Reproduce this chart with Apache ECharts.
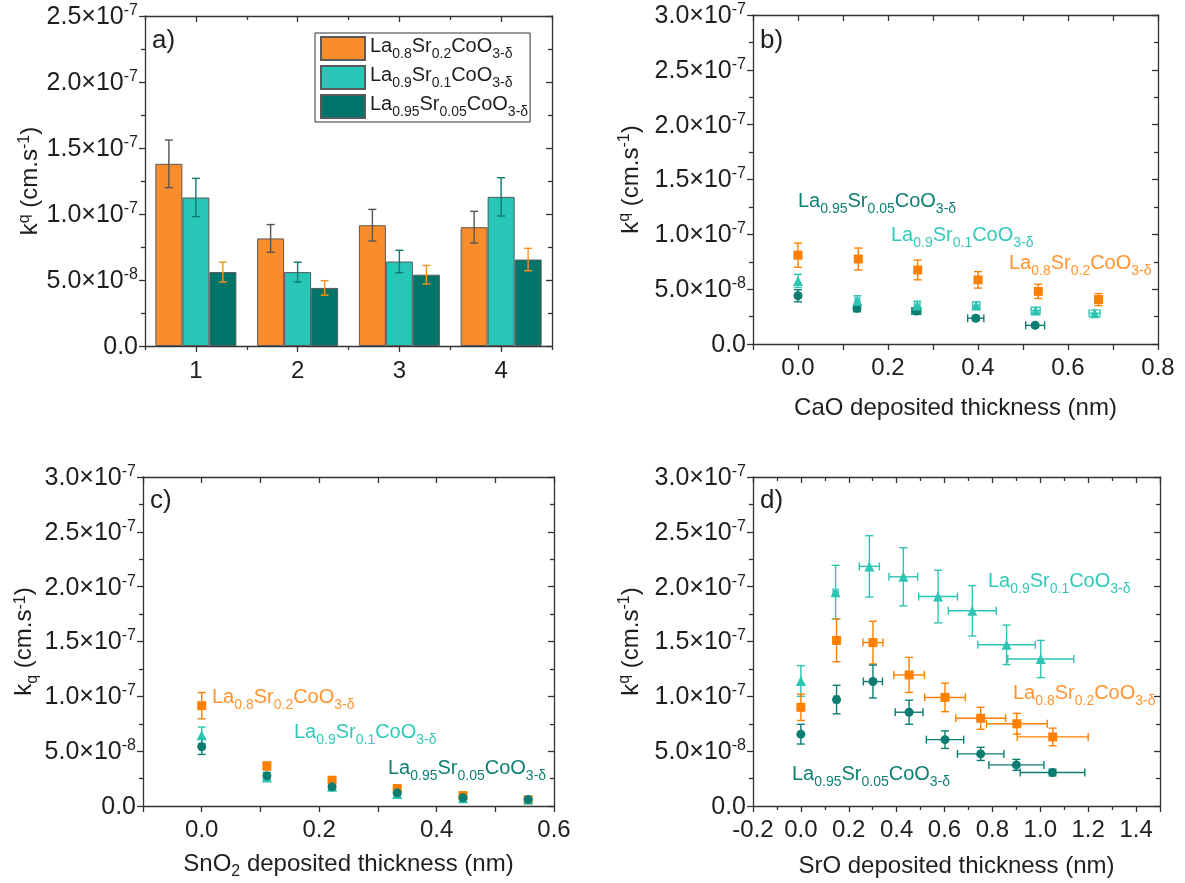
<!DOCTYPE html>
<html><head><meta charset="utf-8">
<script src="https://cdn.jsdelivr.net/npm/echarts@6/dist/echarts.min.js"></script>
<style>html,body{margin:0;padding:0;background:#fff}#c{width:1185px;height:883px}</style>
</head><body><div id="c"></div>
<script>
// ---------------- DATA (k values in units of 1e-8 cm/s) ----------------
const barCategories = ['1', '2', '3', '4'];
const barLSC82 = [13.8, 8.15, 9.15, 9.0];
const barLSC82Err = [1.8, 1.05, 1.2, 1.2];
const barLSC91 = [11.25, 5.6, 6.4, 11.3];
const barLSC91Err = [1.45, 0.75, 0.85, 1.45];
const barLSC955 = [5.6, 4.4, 5.4, 6.55];
const barLSC955Err = [0.75, 0.55, 0.7, 0.85];

// panel b: CaO
const caoX82 = [0, 0.134, 0.266, 0.4, 0.534, 0.668];
const caoY82 = [8.1, 7.75, 6.75, 5.85, 4.8, 4.05];
const caoYE82 = [1.1, 1.0, 0.9, 0.75, 0.65, 0.55];
const caoXE82 = [0, 0, 0, 0, 0, 0];
const caoX91 = [0, 0.132, 0.265, 0.396, 0.528, 0.659];
const caoY91 = [5.75, 3.95, 3.5, 3.5, 3.05, 2.8];
const caoYE91 = [0.6, 0.45, 0.4, 0.35, 0.3, 0.3];
const caoXE91 = [0, 0.005, 0.006, 0.008, 0.01, 0.012];
const caoX955 = [0, 0.131, 0.263, 0.395, 0.527];
const caoY955 = [4.4, 3.25, 3.0, 2.35, 1.7];
const caoYE955 = [0.55, 0.3, 0.3, 0.2, 0.15];
const caoXE955 = [0, 0.006, 0.01, 0.018, 0.021];

// panel c: SnO2
const snoX = [0, 0.111, 0.222, 0.333, 0.445, 0.556];
const snoY82 = [9.15, 3.65, 2.35, 1.6, 0.95, 0.55];
const snoYE82 = [1.2, 0.35, 0.25, 0.18, 0.12, 0.08];
const snoY91 = [6.45, 2.6, 1.75, 1.1, 0.7, 0.6];
const snoYE91 = [0.75, 0.3, 0.2, 0.15, 0.1, 0.08];
const snoY955 = [5.4, 2.75, 1.75, 1.2, 0.75, 0.6];
const snoYE955 = [0.7, 0.3, 0.2, 0.15, 0.1, 0.08];

// panel d: SrO
const sroX91 = [0, 0.145, 0.286, 0.428, 0.573, 0.716, 0.859, 1.002];
const sroXE91 = [0, 0.01, 0.042, 0.06, 0.081, 0.1, 0.12, 0.138];
const sroY91 = [11.4, 19.5, 21.85, 20.9, 19.1, 17.8, 14.7, 13.4];
const sroYE91 = [1.4, 2.45, 2.8, 2.65, 2.4, 2.3, 1.8, 1.7];
const sroX82 = [0, 0.149, 0.301, 0.452, 0.602, 0.751, 0.902, 1.052];
const sroXE82 = [0, 0.01, 0.042, 0.064, 0.085, 0.104, 0.127, 0.148];
const sroY82 = [9.0, 15.1, 14.9, 11.95, 9.9, 8.0, 7.5, 6.3];
const sroYE82 = [1.2, 1.95, 1.95, 1.6, 1.3, 1.0, 0.95, 0.8];
const sroX955 = [0, 0.149, 0.301, 0.452, 0.602, 0.751, 0.9, 1.051];
const sroXE955 = [0, 0.01, 0.04, 0.058, 0.078, 0.097, 0.115, 0.135];
const sroY955 = [6.55, 9.7, 11.35, 8.55, 6.05, 4.75, 3.75, 3.05];
const sroYE955 = [0.9, 1.3, 1.5, 1.1, 0.8, 0.6, 0.5, 0.3];

// ---------------- STYLE ----------------
const FF = 'Liberation Sans, Arial, sans-serif';
const TXT = '#1e1e1e';
const BAR82 = '#F98D2B', BAR91 = '#27C6B7', BAR955 = '#02756A';
const M82 = '#FF8000', M91 = '#2CC4B3', M955 = '#0C7D71';
const T82 = '#FF9533', T91 = '#33C9B9', T955 = '#0F7F73';
const AXL = {color: '#333', width: 1.3};

const chemStr = {
  LSC82: '{n|La}{s|0.8}{n|Sr}{s|0.2}{n|CoO}{s|3-δ}',
  LSC91: '{n|La}{s|0.9}{n|Sr}{s|0.1}{n|CoO}{s|3-δ}',
  LSC955: '{n|La}{s|0.95}{n|Sr}{s|0.05}{n|CoO}{s|3-δ}'
};
function chemRich(color) {
  return {
    n: {fontSize: 20, lineHeight: 20, verticalAlign: 'top', color: color, fill: color, fontFamily: FF},
    s: {fontSize: 14, lineHeight: 25, verticalAlign: 'bottom', color: color, fill: color, fontFamily: FF}
  };
}
const tickRich = {
  m: {fontSize: 25, lineHeight: 27, verticalAlign: 'bottom', color: TXT, fontFamily: FF},
  e: {fontSize: 16, lineHeight: 14, verticalAlign: 'top', color: TXT, fontFamily: FF}
};
const titleRich = {
  t: {fontSize: 24, lineHeight: 26, verticalAlign: 'bottom', color: TXT, fontFamily: FF},
  t2: {fontSize: 24, lineHeight: 24, verticalAlign: 'top', color: TXT, fontFamily: FF},
  sup: {fontSize: 16, lineHeight: 14, verticalAlign: 'top', color: TXT, fontFamily: FF},
  sub: {fontSize: 16, lineHeight: 28, verticalAlign: 'bottom', color: TXT, fontFamily: FF}
};

function yFmt(v) {
  if (Math.abs(v) < 1e-9) return '{m|0.0}';
  let m, e;
  if (v < 9.999) { m = v; e = -8; } else { m = v / 10; e = -7; }
  return '{m|' + m.toFixed(1) + '×10}{e|' + e + '}';
}
function xFmtEven(v) {
  if (v < -0.001) return '';
  const k = Math.round(v * 10);
  return (k % 2 === 0) ? (k / 10).toFixed(1) : '';
}
function xFmtD(v) {
  if (v > 1.45) return '';
  return (Math.round(v * 10) / 10).toFixed(1);
}

function yAx(gi, max, pos, name, nameGap) {
  const left = pos === 'left';
  return {
    type: 'value', gridIndex: gi, position: pos, min: 0, max: max, interval: 5,
    axisLine: {show: true, onZero: false, lineStyle: AXL},
    axisTick: {show: true, inside: !left, length: 6, lineStyle: AXL},
    minorTick: {show: true, splitNumber: 2, length: 4, lineStyle: AXL},
    splitLine: {show: false}, minorSplitLine: {show: false},
    axisLabel: left ? {show: true, margin: 7, formatter: yFmt, rich: tickRich} : {show: false},
    name: left ? name : '', nameLocation: 'middle', nameGap: nameGap || 0, nameRotate: 90,
    nameTextStyle: {rich: titleRich}
  };
}
function xAx(gi, min, max, interval, pos, fmt, name, minor, gap) {
  const bottom = pos === 'bottom';
  return {
    type: 'value', gridIndex: gi, position: pos, min: min, max: max, interval: interval,
    axisLine: {show: true, onZero: false, lineStyle: AXL},
    axisTick: {show: true, inside: !bottom, length: 6, lineStyle: AXL},
    minorTick: {show: !!minor, splitNumber: 2, length: 4, lineStyle: AXL},
    splitLine: {show: false}, minorSplitLine: {show: false},
    axisLabel: bottom ? {show: true, margin: 12, formatter: fmt, fontSize: 24, color: TXT, fontFamily: FF} : {show: false},
    name: bottom ? name : '', nameLocation: 'middle', nameGap: gap || 46,
    nameTextStyle: {rich: titleRich}
  };
}
function catAx(pos, align, len, showLine, showLabel) {
  return {
    type: 'category', gridIndex: 0, position: pos, data: barCategories, boundaryGap: true,
    axisLine: {show: showLine, onZero: false, lineStyle: AXL},
    axisTick: {show: true, alignWithLabel: align, inside: pos === 'top', length: len, lineStyle: AXL},
    axisLabel: {show: showLabel, margin: 13, fontSize: 24, color: TXT, fontFamily: FF},
    splitLine: {show: false}
  };
}

// error bar renderer (dx = pixel offset of the bar inside the category)
function errRender(color, cap, dx) {
  return function (params, api) {
    const x = api.value(0), y = api.value(1), xe = api.value(2), ye = api.value(3);
    const c = api.coord([x, y]);
    const st = {stroke: color, lineWidth: 1.4};
    const ch = [];
    const cx = c[0] + dx;
    if (ye > 0) {
      const t = api.coord([x, y + ye])[1], b = api.coord([x, y - ye])[1];
      ch.push({type: 'line', shape: {x1: cx, y1: t, x2: cx, y2: b}, style: st});
      ch.push({type: 'line', shape: {x1: cx - cap, y1: t, x2: cx + cap, y2: t}, style: st});
      ch.push({type: 'line', shape: {x1: cx - cap, y1: b, x2: cx + cap, y2: b}, style: st});
    }
    if (xe > 0) {
      const l = api.coord([x - xe, y])[0], r = api.coord([x + xe, y])[0];
      ch.push({type: 'line', shape: {x1: l, y1: c[1], x2: r, y2: c[1]}, style: st});
      ch.push({type: 'line', shape: {x1: l, y1: c[1] - cap, x2: l, y2: c[1] + cap}, style: st});
      ch.push({type: 'line', shape: {x1: r, y1: c[1] - cap, x2: r, y2: c[1] + cap}, style: st});
    }
    return {type: 'group', children: ch};
  };
}
function zip4(xs, ys, xes, yes) {
  return xs.map((x, i) => [x, ys[i], xes ? xes[i] : 0, yes[i]]);
}
function errSeries(xi, yi, data, color, cap, dx, op) {
  return {type: 'custom', xAxisIndex: xi, yAxisIndex: yi, data: data, z: 3,
    renderItem: errRender(color, cap, dx || 0), encode: {x: 0, y: 1},
    itemStyle: {opacity: op || 1}, silent: true};
}
function scat(name, xi, yi, xs, ys, symbol, size, color) {
  return {type: 'scatter', name: name, xAxisIndex: xi, yAxisIndex: yi, z: 4,
    data: xs.map((x, i) => [x, ys[i]]), symbol: symbol, symbolSize: size,
    itemStyle: {color: color, opacity: 1}};
}
function barS(name, vals, color) {
  return {type: 'bar', name: name, xAxisIndex: 0, yAxisIndex: 0, data: vals,
    barWidth: 27, barGap: '0%', z: 2,
    itemStyle: {color: color, borderColor: '#5a5a5a', borderWidth: 1}};
}

const zeros4 = [0, 0, 0, 0];
const idx4 = [0, 1, 2, 3];
const zerosSno = snoX.map(() => 0);

const option = {
  animation: false,
  textStyle: {fontFamily: FF},
  grid: [
    {left: 145, top: 16, width: 407, height: 330},
    {left: 753, top: 15, width: 405, height: 329},
    {left: 143, top: 477, width: 411, height: 329},
    {left: 753, top: 477, width: 407, height: 329}
  ],
  xAxis: [
    catAx('bottom', true, 6, true, true),
    catAx('bottom', false, 4, false, false),
    catAx('top', true, 6, true, false),
    catAx('top', false, 4, false, false),
    xAx(1, -0.1, 0.8, 0.1, 'bottom', xFmtEven, '{t|CaO deposited thickness (nm)}', false, 50),
    xAx(1, -0.1, 0.8, 0.1, 'top', null, '', false),
    xAx(2, -0.1, 0.6, 0.1, 'bottom', xFmtEven, '{t2|SnO}{sub|2}{t2| deposited thickness (nm)}', false, 46),
    xAx(2, -0.1, 0.6, 0.1, 'top', null, '', false),
    xAx(3, -0.2, 1.5, 0.2, 'bottom', xFmtD, '{t|SrO deposited thickness (nm)}', true, 46),
    xAx(3, -0.2, 1.5, 0.2, 'top', null, '', true)
  ],
  yAxis: [
    yAx(0, 25, 'left', '{t|k}{sup|q}{t| (cm.s}{sup|-1}{t|)}', 101),
    yAx(0, 25, 'right'),
    yAx(1, 30, 'left', '{t|k}{sup|q}{t| (cm.s}{sup|-1}{t|)}', 110),
    yAx(1, 30, 'right'),
    yAx(2, 30, 'left', '{t2|k}{sub|q}{t2| (cm.s}{sup|-1}{t2|)}', 102),
    yAx(2, 30, 'right'),
    yAx(3, 30, 'left', '{t|k}{sup|q}{t| (cm.s}{sup|-1}{t|)}', 110),
    yAx(3, 30, 'right')
  ],
  legend: {
    data: ['LSC82', 'LSC91', 'LSC955'],
    orient: 'vertical', left: 315, top: 33,
    itemWidth: 44, itemHeight: 23, itemGap: 4, icon: 'rect',
    borderColor: '#333', borderWidth: 1, padding: [3, 2, 3, 5],
    selectedMode: false,
    formatter: n => chemStr[n],
    textStyle: {rich: chemRich(TXT)}
  },
  graphic: [
    {type: 'text', x: 152, y: 28, style: {text: 'a)', fontSize: 26, fill: TXT, fontFamily: FF}},
    {type: 'text', x: 760, y: 28, style: {text: 'b)', fontSize: 26, fill: TXT, fontFamily: FF}},
    {type: 'text', x: 150, y: 488, style: {text: 'c)', fontSize: 26, fill: TXT, fontFamily: FF}},
    {type: 'text', x: 760, y: 488, style: {text: 'd)', fontSize: 26, fill: TXT, fontFamily: FF}},
    {type: 'text', x: 798, y: 191, style: {text: chemStr.LSC955, rich: chemRich(T955), verticalAlign: 'top'}},
    {type: 'text', x: 891, y: 225, style: {text: chemStr.LSC91, rich: chemRich(T91), verticalAlign: 'top'}},
    {type: 'text', x: 1009, y: 253, style: {text: chemStr.LSC82, rich: chemRich(T82), verticalAlign: 'top'}},
    {type: 'text', x: 212, y: 687, style: {text: chemStr.LSC82, rich: chemRich(T82), verticalAlign: 'top'}},
    {type: 'text', x: 294, y: 722, style: {text: chemStr.LSC91, rich: chemRich(T91), verticalAlign: 'top'}},
    {type: 'text', x: 388, y: 758, style: {text: chemStr.LSC955, rich: chemRich(T955), verticalAlign: 'top'}},
    {type: 'text', x: 988, y: 571, style: {text: chemStr.LSC91, rich: chemRich(T91), verticalAlign: 'top'}},
    {type: 'text', x: 1013, y: 683, style: {text: chemStr.LSC82, rich: chemRich(T82), verticalAlign: 'top'}},
    {type: 'text', x: 792, y: 764, style: {text: chemStr.LSC955, rich: chemRich(T955), verticalAlign: 'top'}}
  ],
  series: [
    // panel a
    barS('LSC82', barLSC82, BAR82),
    barS('LSC91', barLSC91, BAR91),
    barS('LSC955', barLSC955, BAR955),
    errSeries(0, 0, zip4(idx4, barLSC82, zeros4, barLSC82Err), '#555555', 4, -27),
    errSeries(0, 0, zip4(idx4, barLSC91, zeros4, barLSC91Err), '#0E7A70', 4, 0),
    errSeries(0, 0, zip4(idx4, barLSC955, zeros4, barLSC955Err), '#F7941D', 4, 27),
    // panel b
    errSeries(4, 2, zip4(caoX955, caoY955, caoXE955, caoYE955), M955, 4),
    errSeries(4, 2, zip4(caoX91, caoY91, caoXE91, caoYE91), M91, 4),
    errSeries(4, 2, zip4(caoX82, caoY82, caoXE82, caoYE82), M82, 4),
    scat('b955', 4, 2, caoX955, caoY955, 'circle', 9, M955),
    scat('b91', 4, 2, caoX91, caoY91, 'triangle', 10, M91),
    scat('b82', 4, 2, caoX82, caoY82, 'rect', 9, M82),
    // panel c
    errSeries(6, 4, zip4(snoX, snoY82, zerosSno, snoYE82), M82, 4),
    scat('c82', 6, 4, snoX, snoY82, 'rect', 9, M82),
    errSeries(6, 4, zip4(snoX, snoY91, zerosSno, snoYE91), M91, 4),
    scat('c91', 6, 4, snoX, snoY91, 'triangle', 10, M91),
    errSeries(6, 4, zip4(snoX, snoY955, zerosSno, snoYE955), M955, 4),
    scat('c955', 6, 4, snoX, snoY955, 'circle', 9, M955),
    // panel d
    errSeries(8, 6, zip4(sroX91, sroY91, sroXE91, sroYE91), M91, 4, 0, 0.85),
    errSeries(8, 6, zip4(sroX82, sroY82, sroXE82, sroYE82), M82, 4, 0, 0.75),
    errSeries(8, 6, zip4(sroX955, sroY955, sroXE955, sroYE955), M955, 4),
    scat('d91', 8, 6, sroX91, sroY91, 'triangle', 10, M91),
    scat('d82', 8, 6, sroX82, sroY82, 'rect', 9, M82),
    scat('d955', 8, 6, sroX955, sroY955, 'circle', 9, M955)
  ]
};
const chart = echarts.init(document.getElementById('c'));
chart.setOption(option);
</script>
</body></html>
